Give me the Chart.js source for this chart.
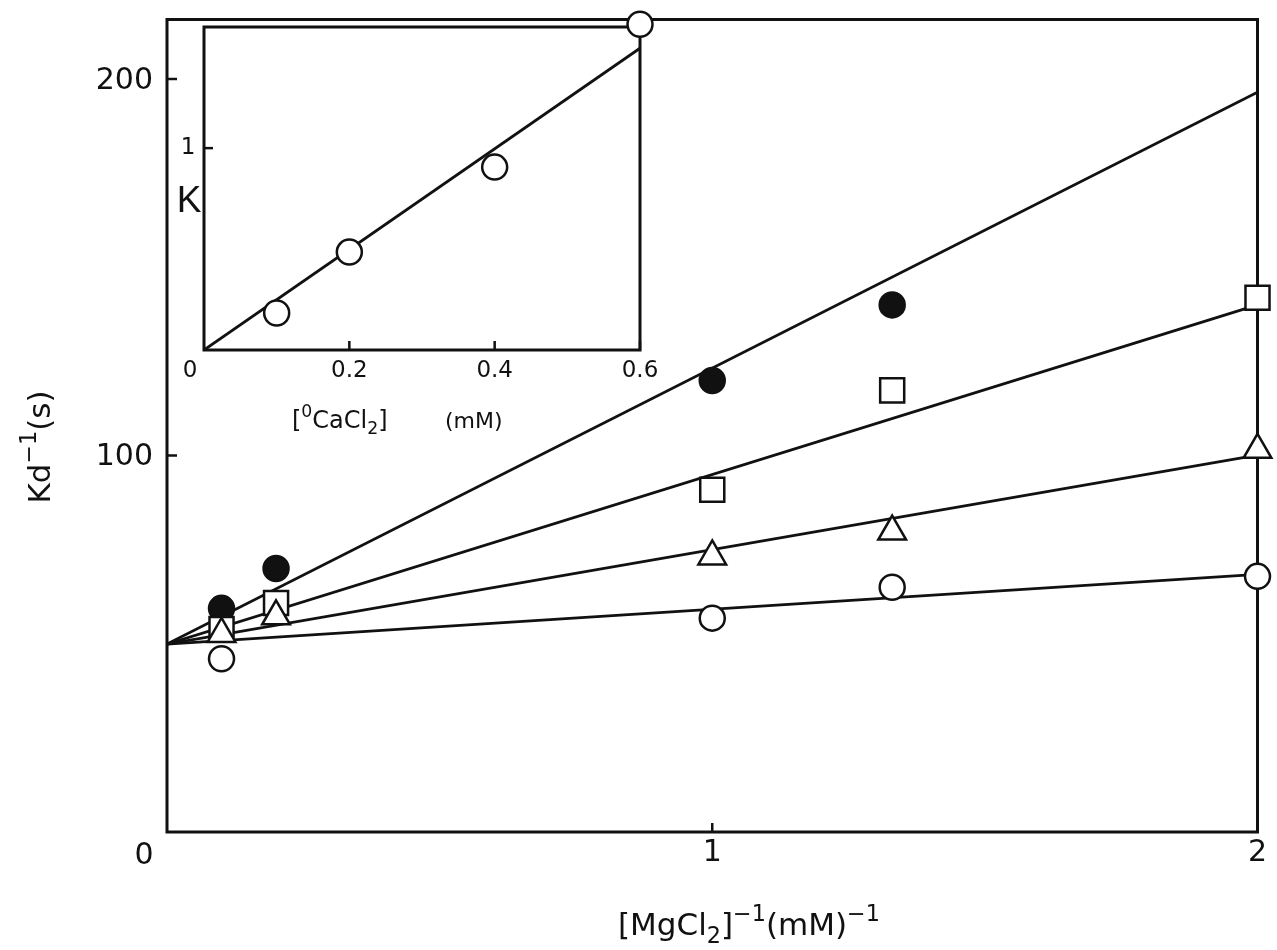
<!DOCTYPE html>
<html>
<head>
<meta charset="utf-8">
<script src="https://cdn.jsdelivr.net/npm/chart.js@4.4.0/dist/chart.umd.min.js"></script>
<style>
  html, body { margin: 0; padding: 0; background: #fff; }
  #wrap { position: relative; width: 1277px; height: 950px; }
  #wrap canvas { position: absolute; left: 0; top: 0; }
</style>
</head>
<body>
<div id="wrap">
  <canvas id="main" width="1277" height="950"></canvas>
  <canvas id="inset" width="1277" height="950"></canvas>
</div>
<script>
// main plot: Kd^-1 against [MgCl2]^-1
const filledX = [0.1, 0.2, 1, 1.33];
const filledY = [59.4, 70.0, 119.9, 140.0];
const squareX = [0.1, 0.2, 1, 1.33, 2];
const squareY = [53.9, 60.8, 90.9, 117.3, 141.9];
const triangleX = [0.1, 0.2, 1, 1.33, 2];
const triangleY = [52.6, 57.3, 73.2, 79.8, 101.5];
const circleX = [0.1, 1, 1.33, 2];
const circleY = [46.0, 56.8, 65.0, 67.9];

// fitted lines, all share the intercept
const fitX = [0, 2];
const fitFilled = [49.9, 196.5];
const fitSquare = [49.9, 140.0];
const fitTriangle = [49.9, 100.1];
const fitCircle = [49.9, 68.4];

const mainXTicks = [1, 2];
const mainYTicks = [100, 200];

// inset: K against CaCl2
const caX = [0.1, 0.2, 0.4, 0.6];
const kY = [0.183, 0.485, 0.906, 1.614];
const kFitX = [0, 0.6];
const kFitY = [0, 1.495];

const insetXTicks = [0.2, 0.4, 0.6];
const insetYTicks = [1];

const ink = '#111';
const MAIN_FONT = '"DejaVu Sans", sans-serif';

function pts(xs, ys) {
    return xs.map((v, i) => ({ x: v, y: ys[i] }));
}

// draws a run of text pieces (normal, sup, sub) starting at x, baseline y
function richWidth(ctx, parts, size) {
    let w = 0;
    parts.forEach(p => {
        const s = p.k ? size * 0.72 : size;
        ctx.font = s + 'px ' + MAIN_FONT;
        w += ctx.measureText(p.t).width;
    });
    return w;
}
function drawRich(ctx, parts, x, y, size) {
    let cx = x;
    parts.forEach(p => {
        const s = p.k ? size * 0.72 : size;
        ctx.font = s + 'px ' + MAIN_FONT;
        let dy = 0;
        if (p.k === 'sup') dy = -size * 0.45;
        if (p.k === 'sub') dy = size * 0.25;
        ctx.fillText(p.t, cx, y + dy);
        cx += ctx.measureText(p.t).width;
    });
}

// lower order = drawn on top
function markerSet(label, data, style, radius, fill, order) {
    return {
        label: label,
        data: data,
        showLine: false,
        pointStyle: style,
        pointRadius: radius,
        pointBackgroundColor: fill,
        pointBorderColor: ink,
        pointBorderWidth: 2.5,
        clip: false,
        order: order
    };
}
function lineSet(label, data) {
    return {
        label: label,
        data: data,
        showLine: true,
        borderColor: ink,
        borderWidth: 2.8,
        pointRadius: 0,
        fill: false,
        order: 10
    };
}

const mainFrame = {
    id: 'mainFrame',
    beforeDatasetsDraw(chart) {
        const { ctx, chartArea: a, scales: { x, y } } = chart;
        ctx.save();
        ctx.strokeStyle = ink;
        ctx.lineWidth = 3;
        ctx.strokeRect(a.left, a.top, a.right - a.left, a.bottom - a.top);
        ctx.lineWidth = 2.5;
        mainYTicks.forEach(v => {
            const py = y.getPixelForValue(v);
            ctx.beginPath();
            ctx.moveTo(a.left, py);
            ctx.lineTo(a.left + 10, py);
            ctx.stroke();
        });
        mainXTicks.forEach(v => {
            const px = x.getPixelForValue(v);
            ctx.beginPath();
            ctx.moveTo(px, a.bottom);
            ctx.lineTo(px, a.bottom - 9);
            ctx.stroke();
        });
        ctx.restore();
    },
    afterDraw(chart) {
        const { ctx, chartArea: a, scales: { x, y } } = chart;
        ctx.save();
        ctx.fillStyle = ink;
        ctx.font = '30px ' + MAIN_FONT;
        ctx.textBaseline = 'middle';
        ctx.textAlign = 'right';
        mainYTicks.forEach(v => {
            ctx.fillText(String(v), a.left - 14, y.getPixelForValue(v) + 2);
        });
        ctx.textAlign = 'center';
        ctx.fillText('0', a.left - 23, a.bottom + 24);
        mainXTicks.forEach(v => {
            ctx.fillText(String(v), x.getPixelForValue(v), a.bottom + 21);
        });

        // x title
        ctx.textAlign = 'left';
        ctx.textBaseline = 'alphabetic';
        const xt = [
            { t: '[MgCl' }, { t: '2', k: 'sub' }, { t: ']' },
            { t: '\u22121', k: 'sup' }, { t: '(mM)' }, { t: '\u22121', k: 'sup' }
        ];
        const xw = richWidth(ctx, xt, 31);
        drawRich(ctx, xt, 749 - xw / 2, 935, 31);

        // y title, rotated
        const yt = [{ t: 'Kd' }, { t: '\u22121', k: 'sup' }, { t: '(s)' }];
        ctx.translate(50, 447);
        ctx.rotate(-Math.PI / 2);
        const yw = richWidth(ctx, yt, 31);
        drawRich(ctx, yt, -yw / 2, 0, 31);
        ctx.restore();
    }
};

const insetFrame = {
    id: 'insetFrame',
    beforeDatasetsDraw(chart) {
        const { ctx, chartArea: a, scales: { x, y } } = chart;
        ctx.save();
        ctx.fillStyle = '#fff';
        ctx.fillRect(a.left, a.top, a.right - a.left, a.bottom - a.top);
        ctx.strokeStyle = ink;
        ctx.lineWidth = 3;
        ctx.strokeRect(a.left, a.top, a.right - a.left, a.bottom - a.top);
        ctx.lineWidth = 2.5;
        insetXTicks.forEach(v => {
            const px = x.getPixelForValue(v);
            ctx.beginPath();
            ctx.moveTo(px, a.bottom);
            ctx.lineTo(px, a.bottom - 9);
            ctx.stroke();
        });
        insetYTicks.forEach(v => {
            const py = y.getPixelForValue(v);
            ctx.beginPath();
            ctx.moveTo(a.left, py);
            ctx.lineTo(a.left + 9, py);
            ctx.stroke();
        });
        ctx.restore();
    },
    afterDraw(chart) {
        const { ctx, chartArea: a, scales: { x, y } } = chart;
        ctx.save();
        ctx.fillStyle = ink;
        ctx.font = '23px ' + MAIN_FONT;
        ctx.textBaseline = 'middle';
        ctx.textAlign = 'center';
        ctx.fillText('0', a.left - 14, a.bottom + 21);
        insetXTicks.forEach(v => {
            ctx.fillText(String(v), x.getPixelForValue(v), a.bottom + 21);
        });
        insetYTicks.forEach(v => {
            ctx.fillText(String(v), a.left - 16, y.getPixelForValue(v));
        });
        ctx.font = '37px "Liberation Sans", sans-serif';
        ctx.fillText('K', a.left - 15, 202);

        // inset x title
        ctx.textAlign = 'left';
        ctx.textBaseline = 'alphabetic';
        const it = [{ t: '[' }, { t: '0', k: 'sup' }, { t: 'CaCl' }, { t: '2', k: 'sub' }, { t: ']' }];
        drawRich(ctx, it, 292, 428, 24);
        ctx.font = '22px ' + MAIN_FONT;
        ctx.fillText('(mM)', 445, 428);
        ctx.restore();
    }
};

const mainConfig = {
    type: 'scatter',
    data: {
        datasets: [
            markerSet('triangle', pts(triangleX, triangleY), 'triangle', 16, '#fff', 1),
            markerSet('square', pts(squareX, squareY), 'rect', 17, '#fff', 2),
            markerSet('filled', pts(filledX, filledY), 'circle', 12.5, ink, 3),
            markerSet('circle', pts(circleX, circleY), 'circle', 12.5, '#fff', 4),
            lineSet('fit filled', pts(fitX, fitFilled)),
            lineSet('fit square', pts(fitX, fitSquare)),
            lineSet('fit triangle', pts(fitX, fitTriangle)),
            lineSet('fit circle', pts(fitX, fitCircle))
        ]
    },
    options: {
        responsive: false,
        animation: false,
        devicePixelRatio: 1,
        events: [],
        layout: { padding: { left: 167, right: 16, top: 15, bottom: 118 } },
        scales: {
            x: { type: 'linear', min: 0, max: 2, display: false },
            y: { type: 'linear', min: 0, max: 215.8, display: false }
        },
        plugins: { legend: { display: false }, tooltip: { enabled: false } }
    },
    plugins: [mainFrame]
};

const insetConfig = {
    type: 'scatter',
    data: {
        datasets: [
            markerSet('K', pts(caX, kY), 'circle', 12.5, '#fff', 1),
            lineSet('K fit', pts(kFitX, kFitY))
        ]
    },
    options: {
        responsive: false,
        animation: false,
        devicePixelRatio: 1,
        events: [],
        layout: { padding: { left: 204, right: 637, top: 27, bottom: 600 } },
        scales: {
            x: { type: 'linear', min: 0, max: 0.6, display: false },
            y: { type: 'linear', min: 0, max: 1.6, display: false }
        },
        plugins: { legend: { display: false }, tooltip: { enabled: false } }
    },
    plugins: [insetFrame]
};

new Chart(document.getElementById('main').getContext('2d'), mainConfig);
new Chart(document.getElementById('inset').getContext('2d'), insetConfig);
</script>
</body>
</html>
